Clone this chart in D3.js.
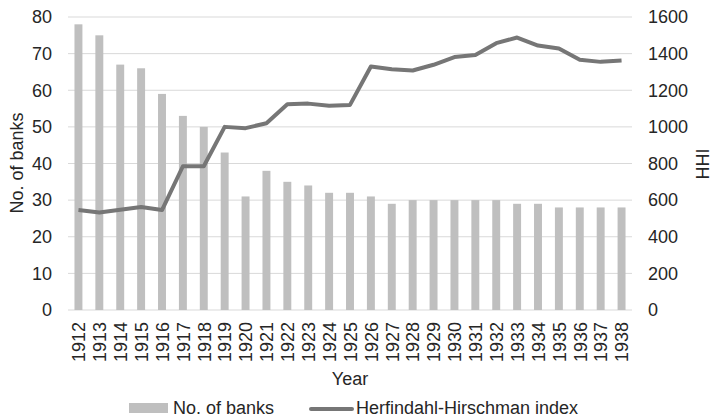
<!DOCTYPE html>
<html>
<head>
<meta charset="utf-8">
<script src="https://cdn.jsdelivr.net/npm/d3@7"></script>
<style>
body { margin: 0; background: #fff; }
text { font-family: "Liberation Sans", Arial, sans-serif; fill: #262626; }
</style>
</head>
<body>
<svg id="chart" width="715" height="419"></svg>
<script>
var years = [1912,1913,1914,1915,1916,1917,1918,1919,1920,1921,1922,1923,1924,1925,
             1926,1927,1928,1929,1930,1931,1932,1933,1934,1935,1936,1937,1938];
var banks = [78,75,67,66,59,53,50,43,31,38,35,34,32,32,31,29,30,30,30,30,30,29,29,28,28,28,28];
var hhi = [546,533,548,563,546,785,785,1000,993,1020,1124,1127,1115,1120,
           1330,1315,1308,1339,1381,1393,1457,1488,1444,1428,1366,1355,1362];
var leftTicks = [0,10,20,30,40,50,60,70,80];
var rightTicks = [0,200,400,600,800,1000,1200,1400,1600];

var svg = d3.select("#chart");
var m = {left: 68, right: 632, top: 17, bottom: 310};
var fs = 18;

var x = d3.scaleBand().domain(years).range([m.left, m.right]).paddingInner(0.62).paddingOuter(0.31);
var xl = d3.scalePoint().domain(years).range([m.left, m.right]).padding(0.5);
var y = d3.scaleLinear().domain([0, 80]).range([m.bottom, m.top]);
var y2 = d3.scaleLinear().domain([0, 1600]).range([m.bottom, m.top]);

// gridlines
svg.append("g").selectAll("line").data(leftTicks).enter().append("line")
    .attr("x1", m.left).attr("x2", m.right)
    .attr("y1", function(d){ return y(d); }).attr("y2", function(d){ return y(d); })
    .attr("stroke", "#d9d9d9").attr("stroke-width", 1);

// bars
svg.append("g").selectAll("rect").data(banks).enter().append("rect")
    .attr("x", function(d, i){ return x(years[i]); })
    .attr("width", x.bandwidth())
    .attr("y", function(d){ return y(d); })
    .attr("height", function(d){ return y(0) - y(d); })
    .attr("fill", "#bfbfbf");

// HHI line
var line = d3.line().x(function(d, i){ return xl(years[i]); }).y(function(d){ return y2(d); });
svg.append("path").datum(hhi).attr("d", line)
    .attr("fill", "none").attr("stroke", "#767676").attr("stroke-width", 4)
    .attr("stroke-linejoin", "round");

// left axis
var la = svg.append("g").attr("transform", "translate(" + (m.left - 16) + ",0)")
    .call(d3.axisLeft(y).tickValues(leftTicks).tickSize(0).tickPadding(0));
la.select(".domain").remove();
la.selectAll("text").attr("font-size", fs).style("fill", "#262626");

// right axis
var ra = svg.append("g").attr("transform", "translate(" + (m.right + 16) + ",0)")
    .call(d3.axisRight(y2).tickValues(rightTicks).tickFormat(d3.format("d")).tickSize(0).tickPadding(0));
ra.select(".domain").remove();
ra.selectAll("text").attr("font-size", fs).style("fill", "#262626");

// x axis
var xa = svg.append("g").attr("transform", "translate(0," + (m.bottom + 12) + ")")
    .call(d3.axisBottom(xl).tickSize(0).tickPadding(0));
xa.select(".domain").remove();
xa.selectAll("text").attr("font-size", fs).style("fill", "#262626")
    .attr("transform", "rotate(-90)").attr("text-anchor", "end")
    .attr("dx", 0).attr("dy", "0.35em").attr("x", 0).attr("y", 0);

// axis titles
svg.append("text").attr("transform", "translate(23,163) rotate(-90)")
    .attr("text-anchor", "middle").attr("font-size", fs).text("No. of banks");
svg.append("text").attr("transform", "translate(709,164) rotate(-90)")
    .attr("text-anchor", "middle").attr("font-size", fs).text("HHI");
svg.append("text").attr("x", 350).attr("y", 385)
    .attr("text-anchor", "middle").attr("font-size", fs).text("Year");

// legend
var lg = svg.append("g");
lg.append("rect").attr("x", 129).attr("y", 403).attr("width", 39).attr("height", 10).attr("fill", "#bfbfbf");
lg.append("text").attr("x", 173).attr("y", 414).attr("font-size", fs).text("No. of banks");
lg.append("line").attr("x1", 311).attr("x2", 352).attr("y1", 409).attr("y2", 409)
    .attr("stroke", "#767676").attr("stroke-width", 4).attr("stroke-linecap", "round");
lg.append("text").attr("x", 356).attr("y", 414).attr("font-size", fs).text("Herfindahl-Hirschman index");
</script>
</body>
</html>
